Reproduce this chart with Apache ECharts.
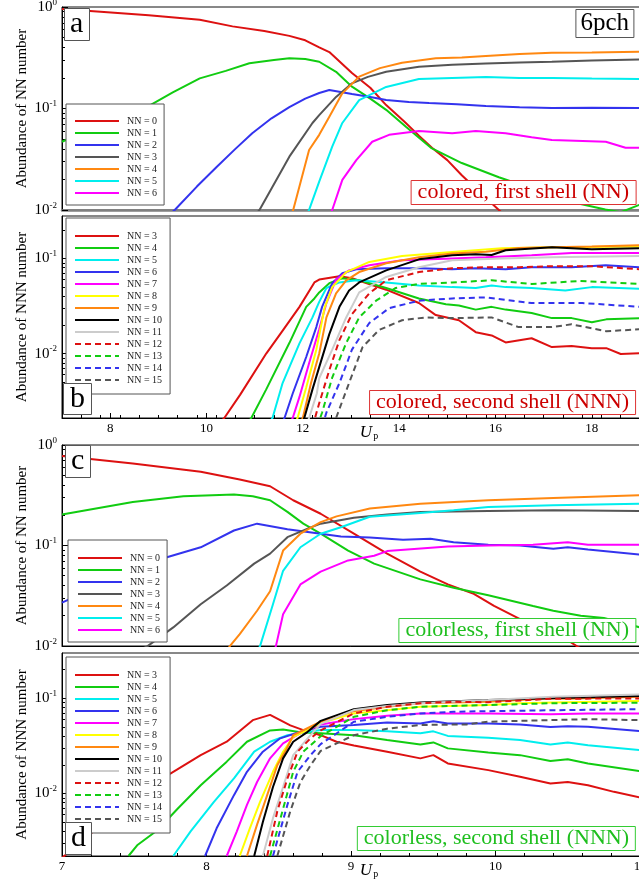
<!DOCTYPE html>
<html><head><meta charset="utf-8">
<script src="https://cdn.jsdelivr.net/npm/echarts@6/dist/echarts.min.js"></script>
<style>html,body{margin:0;padding:0;background:#fff}#c{width:639px;height:886px}</style>
</head><body><div id="c"></div>
<script>
// ---------- tick labels ----------
const X_TICKS_B = [8, 10, 12, 14, 16, 18];
const X_TICKS_D = [7, 8, 9, 10, 11];
const Y_TICKS = [0.01, 0.1, 1];

// ---------- panel a: colored, first shell (NN) ----------
const a_nn0 = [[7,0.955],[7.8,0.9],[8.8,0.83],[9.86,0.75],[10.54,0.645],[11.2,0.58],[11.72,0.52],[12.05,0.47],[12.34,0.40],[12.55,0.36],[13.02,0.224],[13.4,0.16],[13.73,0.108],[14.1,0.075],[14.41,0.054],[14.68,0.041],[15.0,0.031],[15.3,0.022],[15.7,0.0145],[16.07,0.01],[16.4,0.0072]];
const a_nn1 = [[7,0.047],[7.5,0.06],[8,0.075],[8.76,0.103],[9.3,0.144],[9.86,0.198],[10.4,0.235],[10.89,0.279],[11.4,0.3],[11.72,0.312],[12.05,0.307],[12.34,0.289],[12.69,0.23],[13.02,0.164],[13.4,0.125],[13.73,0.097],[14.14,0.066],[14.66,0.041],[15.3,0.029],[16.07,0.021],[16.83,0.0158],[17.58,0.012],[18.28,0.0101],[18.6,0.0095],[19,0.0113]];
const a_nn2 = [[9.0,0.0072],[9.34,0.01],[9.8,0.017],[10.21,0.0265],[10.6,0.04],[10.95,0.057],[11.35,0.08],[11.72,0.103],[12.05,0.125],[12.34,0.142],[12.55,0.152],[13.02,0.139],[13.4,0.13],[13.73,0.121],[14.2,0.116],[14.62,0.113],[15.2,0.11],[15.8,0.106],[16.5,0.103],[17.17,0.101],[18,0.102],[19,0.101]];
const a_nn3 = [[10.9,0.0078],[11.1,0.01],[11.72,0.0335],[12.2,0.072],[12.34,0.086],[12.69,0.13],[13.02,0.177],[13.35,0.205],[13.73,0.23],[14.41,0.258],[15.1,0.27],[15.8,0.278],[16.5,0.284],[17.17,0.289],[18,0.298],[19,0.305]];
const a_nn4 = [[11.7,0.0078],[11.8,0.01],[12.13,0.039],[12.34,0.055],[12.55,0.083],[12.82,0.141],[13.17,0.206],[13.6,0.25],[14.06,0.283],[14.76,0.312],[15.3,0.318],[15.8,0.329],[16.5,0.345],[17.17,0.354],[18,0.356],[19,0.362]];
const a_nn5 = [[12.0,0.0075],[12.13,0.01],[12.34,0.019],[12.61,0.042],[12.82,0.072],[13.17,0.121],[13.73,0.163],[14.41,0.195],[15.1,0.2],[15.8,0.204],[16.5,0.2],[17.17,0.2],[18,0.197],[19,0.195]];
const a_nn6 = [[12.5,0.0075],[12.61,0.01],[12.82,0.0198],[13.11,0.031],[13.44,0.047],[13.79,0.055],[14.41,0.06],[15.1,0.057],[15.59,0.06],[16.21,0.057],[16.75,0.052],[17.17,0.049],[18.29,0.047],[18.7,0.041],[19,0.041]];

// ---------- panel b: colored, second shell (NNN) ----------
const b_nn3 = [[10.2,0.0017],[10.37,0.0021],[10.7,0.0037],[11.24,0.01],[11.6,0.018],[11.93,0.031],[12.24,0.056],[12.34,0.06],[12.76,0.065],[13.02,0.062],[13.73,0.047],[14.41,0.034],[14.76,0.0254],[15.24,0.0224],[15.59,0.0168],[15.92,0.0155],[16.21,0.0131],[16.75,0.0145],[17.17,0.0117],[17.58,0.012],[18,0.0114],[18.3,0.0114],[18.6,0.0099],[19,0.0101]];
const b_nn4 = [[10.8,0.0017],[10.93,0.0021],[11.24,0.0042],[11.72,0.0129],[12.07,0.031],[12.24,0.038],[12.34,0.044],[12.55,0.055],[12.82,0.062],[13.17,0.059],[13.73,0.049],[14.41,0.038],[14.97,0.033],[15.24,0.032],[15.59,0.029],[15.92,0.031],[16.21,0.029],[16.75,0.0267],[17.17,0.0236],[17.58,0.0236],[18,0.0213],[18.3,0.0229],[19,0.0236]];
const b_nn5 = [[11.25,0.0017],[11.37,0.0021],[11.58,0.0049],[11.93,0.0128],[12.2,0.024],[12.34,0.035],[12.49,0.049],[12.76,0.056],[13.11,0.059],[13.73,0.056],[14.41,0.052],[15.1,0.05],[15.59,0.049],[15.92,0.052],[16.21,0.05],[16.75,0.049],[17.45,0.046],[18,0.05],[19,0.048]];
const b_nn6 = [[11.5,0.0017],[11.62,0.0021],[11.79,0.0038],[12.07,0.0092],[12.28,0.019],[12.4,0.031],[12.61,0.055],[12.82,0.07],[13.11,0.077],[13.73,0.079],[14.41,0.079],[15.1,0.077],[15.59,0.079],[16.21,0.077],[16.75,0.081],[17.58,0.081],[18.29,0.085],[19,0.081]];
const b_nn7 = [[11.7,0.0017],[11.79,0.0021],[11.93,0.0035],[12.13,0.0079],[12.34,0.018],[12.49,0.034],[12.69,0.06],[12.96,0.075],[13.38,0.085],[14.06,0.096],[15.1,0.1],[15.8,0.103],[16.75,0.108],[17.58,0.114],[19,0.114]];
const b_nn8 = [[11.8,0.0017],[11.89,0.0021],[12.07,0.0044],[12.28,0.011],[12.45,0.03],[12.61,0.05],[12.9,0.072],[13.38,0.092],[14.06,0.106],[15.1,0.117],[16.13,0.128],[17.17,0.131],[19,0.134]];
const b_nn9 = [[11.9,0.0017],[12.0,0.0021],[12.17,0.0049],[12.34,0.01],[12.49,0.024],[12.69,0.043],[12.9,0.059],[13.17,0.072],[13.73,0.089],[14.41,0.103],[15.1,0.113],[15.8,0.118],[16.48,0.129],[17.17,0.131],[18.0,0.134],[19,0.138]];
const b_nn10 = [[11.95,0.0017],[12.03,0.0021],[12.2,0.0042],[12.34,0.0072],[12.55,0.016],[12.76,0.031],[12.96,0.046],[13.17,0.056],[13.73,0.075],[14.41,0.098],[15.1,0.108],[15.59,0.111],[15.92,0.109],[16.21,0.122],[17.17,0.131],[18.0,0.125],[19,0.128]];
const b_nn11 = [[12.05,0.0017],[12.13,0.0021],[12.29,0.0038],[12.34,0.0055],[12.61,0.011],[12.9,0.024],[13.17,0.044],[13.73,0.064],[14.41,0.081],[15.1,0.096],[16.13,0.1],[17.17,0.103],[19,0.106]];
const b_nn12 = [[12.2,0.0017],[12.34,0.003],[12.55,0.0067],[12.76,0.0139],[13.02,0.026],[13.38,0.043],[13.73,0.059],[14.41,0.072],[15.1,0.079],[15.8,0.081],[16.5,0.081],[17.17,0.083],[18.0,0.083],[19,0.077]];
const b_nn13 = [[12.3,0.0017],[12.4,0.0024],[12.61,0.0056],[12.9,0.0129],[13.17,0.024],[13.52,0.036],[13.93,0.049],[14.41,0.054],[15.1,0.056],[15.92,0.059],[16.75,0.054],[17.73,0.058],[19,0.054]];
const b_nn14 = [[12.4,0.0017],[12.49,0.0024],[12.76,0.0049],[13.02,0.011],[13.38,0.021],[13.79,0.03],[14.41,0.036],[15.1,0.038],[15.8,0.039],[16.75,0.034],[17.8,0.034],[19,0.031]];
const b_nn15 = [[12.6,0.0017],[12.69,0.0021],[12.96,0.0049],[13.24,0.0117],[13.58,0.0177],[14.06,0.0224],[14.55,0.024],[15.1,0.0236],[15.92,0.024],[16.48,0.019],[17.17,0.019],[17.58,0.0203],[18.3,0.0172],[19,0.018]];

// ---------- panel c: colorless, first shell (NN) ----------
const c_nn0 = [[7,0.776],[7.49,0.656],[7.96,0.541],[8.23,0.454],[8.44,0.389],[8.6,0.282],[8.79,0.207],[9.02,0.131],[9.25,0.083],[9.48,0.055],[9.67,0.041],[9.85,0.033],[9.99,0.025],[10.17,0.0185],[10.4,0.0141],[10.57,0.0098],[10.7,0.008]];
const c_nn1 = [[7,0.204],[7.49,0.271],[7.84,0.309],[8.19,0.322],[8.32,0.309],[8.44,0.282],[8.56,0.216],[8.67,0.165],[8.79,0.131],[8.98,0.089],[9.16,0.066],[9.48,0.046],[9.71,0.038],[9.95,0.032],[10.26,0.025],[10.4,0.0224],[10.59,0.02],[10.75,0.019],[11,0.0153]];
const c_nn2 = [[7,0.027],[7.26,0.04],[7.49,0.055],[7.72,0.076],[7.96,0.096],[8.19,0.141],[8.35,0.165],[8.56,0.145],[8.79,0.131],[8.93,0.123],[9.13,0.12],[9.36,0.114],[9.55,0.117],[9.71,0.108],[9.95,0.102],[10.17,0.1],[10.4,0.093],[10.5,0.096],[10.64,0.091],[11,0.081]];
const c_nn3 = [[7.4,0.0075],[7.59,0.0099],[7.77,0.0153],[7.96,0.026],[8.14,0.04],[8.33,0.066],[8.44,0.083],[8.56,0.121],[8.7,0.147],[8.79,0.165],[9.02,0.189],[9.25,0.204],[9.48,0.216],[9.95,0.221],[10.4,0.224],[11,0.221]];
const c_nn4 = [[8.12,0.008],[8.16,0.0099],[8.23,0.0131],[8.35,0.0224],[8.44,0.035],[8.53,0.089],[8.65,0.131],[8.79,0.171],[8.9,0.195],[9.13,0.233],[9.48,0.261],[9.95,0.282],[10.4,0.297],[11,0.316]];
const c_nn5 = [[8.33,0.008],[8.37,0.0099],[8.46,0.026],[8.53,0.056],[8.65,0.096],[8.79,0.131],[8.93,0.152],[9.13,0.193],[9.48,0.211],[9.71,0.224],[9.95,0.242],[10.4,0.251],[11,0.261]];
const c_nn6 = [[8.45,0.008],[8.48,0.0099],[8.53,0.0207],[8.65,0.041],[8.79,0.055],[8.98,0.071],[9.16,0.079],[9.25,0.088],[9.67,0.098],[9.95,0.1],[10.26,0.102],[10.5,0.108],[10.64,0.102],[11,0.102]];

// ---------- panel d: colorless, second shell (NNN) ----------
const d_nn3 = [[7,0.0021],[7.21,0.0039],[7.5,0.0085],[7.75,0.0162],[7.96,0.0253],[8.14,0.035],[8.32,0.059],[8.44,0.067],[8.58,0.052],[8.67,0.0464],[8.79,0.041],[8.9,0.035],[9.02,0.032],[9.25,0.0275],[9.48,0.0234],[9.57,0.0253],[9.67,0.0207],[9.95,0.0176],[10.17,0.015],[10.38,0.0127],[10.5,0.0132],[10.64,0.0122],[10.82,0.0104],[11,0.0091]];
const d_nn4 = [[7.46,0.0022],[7.52,0.00285],[7.66,0.0041],[7.8,0.0069],[7.96,0.0122],[8.14,0.0216],[8.28,0.035],[8.44,0.046],[8.53,0.047],[8.65,0.044],[8.79,0.043],[9.02,0.041],[9.25,0.0364],[9.48,0.0328],[9.57,0.0344],[9.67,0.0298],[9.95,0.027],[10.17,0.0253],[10.38,0.0219],[10.5,0.0229],[10.64,0.0207],[11,0.0172]];
const d_nn5 = [[7.77,0.0022],[7.89,0.004],[8.05,0.0081],[8.19,0.0144],[8.33,0.0275],[8.44,0.035],[8.56,0.041],[8.79,0.0464],[9.02,0.0464],[9.25,0.045],[9.48,0.043],[9.57,0.045],[9.67,0.0403],[9.95,0.0385],[10.17,0.0364],[10.38,0.0328],[10.5,0.0344],[10.64,0.0322],[11,0.0286]];
const d_nn6 = [[7.99,0.0022],[8.07,0.0043],[8.19,0.0096],[8.28,0.0169],[8.39,0.0275],[8.51,0.038],[8.65,0.0445],[8.79,0.0503],[9.02,0.0525],[9.25,0.0558],[9.48,0.0545],[9.57,0.0576],[9.67,0.0545],[9.95,0.0545],[10.17,0.0532],[10.38,0.05],[10.5,0.051],[10.64,0.0503],[11,0.0453]];
const d_nn7 = [[8.14,0.0022],[8.21,0.004],[8.28,0.0076],[8.35,0.0132],[8.44,0.0234],[8.53,0.0336],[8.65,0.043],[8.79,0.053],[9.02,0.0605],[9.25,0.0656],[9.48,0.0695],[9.95,0.0695],[10.38,0.068],[10.64,0.0695],[11,0.0695]];
const d_nn8 = [[8.23,0.0022],[8.3,0.0043],[8.37,0.0081],[8.46,0.0169],[8.53,0.0275],[8.6,0.0394],[8.72,0.048],[8.79,0.055],[9.02,0.0695],[9.25,0.075],[9.48,0.0816],[9.95,0.085],[10.17,0.089],[10.4,0.0907],[11,0.094]];
const d_nn9 = [[8.28,0.0022],[8.35,0.0047],[8.42,0.0096],[8.49,0.0198],[8.55,0.0286],[8.6,0.041],[8.79,0.057],[9.02,0.0734],[9.25,0.0816],[9.48,0.089],[9.95,0.092],[10.38,0.1],[10.5,0.099],[11,0.104]];
const d_nn10 = [[8.33,0.0022],[8.39,0.005],[8.46,0.0117],[8.53,0.0234],[8.6,0.035],[8.7,0.0445],[8.79,0.058],[9.02,0.077],[9.25,0.085],[9.48,0.0907],[9.95,0.096],[10.38,0.1],[11,0.106]];
const d_nn11 = [[8.39,0.0022],[8.46,0.0055],[8.53,0.0117],[8.6,0.0253],[8.7,0.038],[8.79,0.054],[9.02,0.0753],[9.25,0.083],[9.48,0.089],[9.95,0.096],[10.4,0.104],[11,0.11]];
const d_nn12 = [[8.42,0.0022],[8.49,0.0065],[8.56,0.0144],[8.63,0.0275],[8.72,0.038],[8.79,0.046],[9.02,0.0695],[9.25,0.0816],[9.48,0.089],[9.71,0.092],[9.95,0.091],[10.38,0.099],[11,0.1]];
const d_nn13 = [[8.44,0.0022],[8.53,0.0069],[8.6,0.0169],[8.67,0.0275],[8.79,0.04],[9.02,0.064],[9.25,0.075],[9.48,0.0816],[9.95,0.085],[10.4,0.089],[11,0.09]];
const d_nn14 = [[8.46,0.0022],[8.56,0.0076],[8.63,0.0169],[8.72,0.0253],[8.79,0.033],[9.02,0.0568],[9.25,0.064],[9.48,0.0695],[9.71,0.0723],[9.95,0.0734],[10.4,0.075],[11,0.077]];
const d_nn15 = [[8.49,0.0022],[8.58,0.0065],[8.65,0.0132],[8.72,0.0198],[8.79,0.028],[9.02,0.041],[9.25,0.048],[9.48,0.0525],[9.8,0.0532],[9.95,0.0568],[10.17,0.058],[10.64,0.0605],[11,0.059]];

// ---------- styling ----------
const FONT = 'Liberation Serif';
const C = {red:'#dd1111', green:'#11cc11', blue:'#3333ee', gray:'#555555', orange:'#ff8811', cyan:'#00eeee', magenta:'#ff00ff', yellow:'#ffff00', black:'#000000', light:'#cccccc'};
const NN_COLORS = [C.red, C.green, C.blue, C.gray, C.orange, C.cyan, C.magenta];
const NNN_STYLE = {3:[C.red,'solid'],4:[C.green,'solid'],5:[C.cyan,'solid'],6:[C.blue,'solid'],7:[C.magenta,'solid'],8:[C.yellow,'solid'],9:[C.orange,'solid'],10:[C.black,'solid'],11:[C.light,'solid'],12:[C.red,'dashed'],13:[C.green,'dashed'],14:[C.blue,'dashed'],15:[C.gray,'dashed']};

function nnSeries(list){ return list.map((d,i)=>({nn:i, color:NN_COLORS[i], dash:'solid', data:d})); }
function nnnSeries(list){ return list.map((d,i)=>({nn:i+3, color:NNN_STYLE[i+3][0], dash:NNN_STYLE[i+3][1], data:d})); }

function minorLog(min,max){ const v=[]; for(let e=-3;e<=0;e++){ for(let k=2;k<=9;k++){ const x=k*Math.pow(10,e); if(x>min && x<max) v.push(x);} } return v; }
function minorLin(min,max,step,majors){ const v=[]; const n=Math.round((max-min)/step); for(let i=0;i<=n;i++){ const x=+(min+i*step).toFixed(4); if(!majors.some(m=>Math.abs(m-x)<1e-6)) v.push(x);} return v; }

const panels = [
  {tag:'a', top:7, height:203, xmin:7, xmax:19, ymin:0.00999, ymax:1.001, showX:false, xLine:['#808080',2.5], yTitle:'Abundance of NN number',
   series:nnSeries([a_nn0,a_nn1,a_nn2,a_nn3,a_nn4,a_nn5,a_nn6]),
   legend:{left:66, top:104, padding:[12,7,7,8]}},
  {tag:'b', top:216, height:202, xmin:7, xmax:19, ymin:0.0021, ymax:0.28, showX:true, xLine:['#000',1], xMajor:X_TICKS_B, xStep:0.4, yTitle:'Abundance of NNN number',
   series:nnnSeries([b_nn3,b_nn4,b_nn5,b_nn6,b_nn7,b_nn8,b_nn9,b_nn10,b_nn11,b_nn12,b_nn13,b_nn14,b_nn15]),
   legend:{left:66, top:218, padding:[13,8,9,8]}},
  {tag:'c', top:445, height:201, xmin:7, xmax:11, ymin:0.00999, ymax:1.001, showX:false, xLine:['#000',1], yTitle:'Abundance of NN number',
   series:nnSeries([c_nn0,c_nn1,c_nn2,c_nn3,c_nn4,c_nn5,c_nn6]),
   legend:{left:68, top:540, padding:[13,7,7,9]}},
  {tag:'d', top:653, height:203, xmin:7, xmax:11, ymin:0.0022, ymax:0.3, showX:true, xLine:['#000',1], xMajor:X_TICKS_D, xStep:0.2, yTitle:'Abundance of NNN number',
   series:nnnSeries([d_nn3,d_nn4,d_nn5,d_nn6,d_nn7,d_nn8,d_nn9,d_nn10,d_nn11,d_nn12,d_nn13,d_nn14,d_nn15]),
   legend:{left:66, top:657, padding:[13,8,9,8]}}
];

const grid=[], xAxis=[], yAxis=[], series=[], legend=[];
panels.forEach((p,g)=>{
  grid.push({left:62, width:578, top:p.top, height:p.height, show:true, borderColor:'#111', borderWidth:1, backgroundColor:'transparent', containLabel:false, outerBoundsMode:'none'});
  const xMajor = p.xMajor || [];
  const xMinor = p.showX ? minorLin(p.xmin,p.xmax,p.xStep,xMajor) : [];
  xAxis.push({gridIndex:g, type:'value', position:'bottom', min:p.xmin, max:p.xmax,
    axisLine:{show:true, lineStyle:{color:p.xLine[0], width:p.xLine[1]}}, splitLine:{show:false},
    axisTick:{show:p.showX, inside:true, length:5, customValues:xMajor, lineStyle:{color:'#000'}},
    axisLabel:{show:p.showX, customValues:xMajor, margin:4, fontFamily:FONT, fontSize:13, color:'#000', hideOverlap:false},
    name: p.showX ? '{u|U}{p|p}' : '', nameLocation:'middle', nameGap:6, nameMoveOverlap:false,
    nameTextStyle:{padding:[0,0,0,36], rich:{u:{fontFamily:FONT, fontStyle:'italic', fontSize:17, lineHeight:17, verticalAlign:'top', color:'#000'}, p:{fontFamily:FONT, fontSize:10, lineHeight:10, padding:[10,0,0,1], verticalAlign:'bottom', color:'#000'}}}
  });
  xAxis.push({gridIndex:g, type:'value', position:'bottom', min:p.xmin, max:p.xmax, axisLine:{show:false}, splitLine:{show:false},
    axisLabel:{show:false}, axisTick:{show:p.showX, inside:true, length:3, customValues:xMinor, lineStyle:{color:'#000'}}});
  const yMajor = Y_TICKS.filter(v=>v>=p.ymin && v<=p.ymax);
  yAxis.push({gridIndex:g, type:'log', logBase:10, position:'left', min:p.ymin, max:p.ymax,
    axisLine:{show:true, lineStyle:{color:'#000'}}, splitLine:{show:false},
    axisTick:{show:true, inside:true, length:6, customValues:yMajor, lineStyle:{color:'#000'}},
    axisLabel:{show:true, customValues:yMajor, margin:5,
      formatter:(v)=>'{b|10}{s|'+Math.round(Math.log10(v))+'}',
      rich:{b:{fontFamily:FONT, fontSize:15, lineHeight:18, color:'#000'}, s:{fontFamily:FONT, fontSize:9, lineHeight:9, verticalAlign:'top', color:'#000'}}},
    name:p.yTitle, nameLocation:'middle', nameRotate:90, nameGap:32, nameMoveOverlap:false,
    nameTextStyle:{fontFamily:FONT, fontSize:15, color:'#000'}
  });
  yAxis.push({gridIndex:g, type:'log', logBase:10, position:'left', min:p.ymin, max:p.ymax,
    axisLine:{show:false}, splitLine:{show:false}, axisLabel:{show:false},
    axisTick:{show:true, inside:true, length:3, customValues:minorLog(p.ymin,p.ymax), lineStyle:{color:'#000'}}});
  const names=[];
  p.series.forEach(s=>{
    const name = p.tag+'|NN = '+s.nn;
    names.push(name);
    series.push({name, type:'line', xAxisIndex:2*g, yAxisIndex:2*g, data:s.data, symbol:'none', showSymbol:false,
      lineStyle:{color:s.color, width:2, type: s.dash==='dashed' ? [6,4] : 'solid'}, itemStyle:{color:s.color},
      emphasis:{disabled:true}, silent:true, clip:true, z:2});
  });
  legend.push({show:true, data:names, orient:'vertical', left:p.legend.left, top:p.legend.top, padding:p.legend.padding,
    itemWidth:44, itemHeight:10, itemGap:2, backgroundColor:'#fff', borderColor:'#555', borderWidth:1, selectedMode:false,
    itemStyle:{opacity:0, color:'transparent', borderWidth:0},
    formatter:(n)=>n.split('|')[1],
    textStyle:{fontFamily:FONT, fontSize:10, lineHeight:10, color:'#222', padding:[0,0,0,3]}});
});

const boxText = (text, pos, color, fs, lh, pad, border) => Object.assign({text, padding:pad, borderColor:border||'#555', borderWidth:1, backgroundColor:'#fff',
  textStyle:{fontFamily:FONT, fontWeight:'normal', fontSize:fs, lineHeight:lh, color}}, pos);
const title = [
  boxText('a', {left:64, top:10}, '#000', 30, 27, [1,6]),
  boxText('b', {left:63, top:383}, '#000', 30, 30, [1,7]),
  boxText('c', {left:65, top:446}, '#000', 30, 29, [1,6]),
  boxText('d', {left:65, top:822}, '#000', 30, 31, [1,6]),
  boxText('6pch', {right:5, top:9}, '#000', 25, 27, [1,5]),
  boxText('colored, first shell (NN)', {right:3, top:180}, '#cc0000', 22, 23, [1,7], '#dd3333'),
  boxText('colored, second shell (NNN)', {right:3, top:390}, '#cc0000', 22, 23, [1,7], '#dd3333'),
  boxText('colorless, first shell (NN)', {right:3, top:618}, '#1fbf1f', 22, 23, [1,7], '#33cc33'),
  boxText('colorless, second shell (NNN)', {right:3, top:826}, '#1fbf1f', 22, 23, [1,7], '#33cc33')
];

const chart = echarts.init(document.getElementById('c'), null, {renderer:'canvas'});
chart.setOption({animation:false, backgroundColor:'#fff', tooltip:{show:false}, title, grid, xAxis, yAxis, legend, series});
</script></body></html>
